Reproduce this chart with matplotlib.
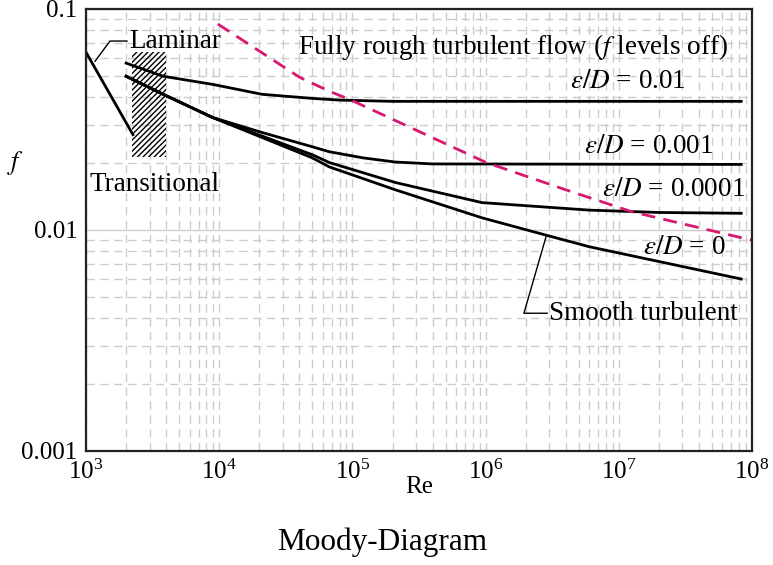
import matplotlib
matplotlib.use("Agg")
import matplotlib.pyplot as plt
from matplotlib import ticker

plt.rcParams['font.family'] = ['Liberation Serif', 'DejaVu Serif']
plt.rcParams['mathtext.fontset'] = 'stix'
plt.rcParams['hatch.linewidth'] = 1.0

# values
re_lam = [1000, 2250]
f_lam = [0.0637, 0.027]

re_r01 = [2000, 3800, 8900, 21000, 50000, 80000, 2e5, 8.3e7]
f_r01 = [0.0569, 0.0496, 0.0456, 0.0411, 0.0394, 0.0387, 0.0382, 0.0382]

re_r001 = [2000, 3800, 8900, 21000, 50000, 67000, 1.2e5, 2.1e5, 4e5, 8.3e7]
f_r001 = [0.0496, 0.0411, 0.0323, 0.0276, 0.0238, 0.0226, 0.0212, 0.0203, 0.0199, 0.0198]

re_r0001 = [2000, 3800, 8900, 21000, 50000, 67000, 2.1e5, 9.4e5, 2.8e6, 6e6, 2e7, 8.3e7]
f_r0001 = [0.0496, 0.0411, 0.0323, 0.0266, 0.0219, 0.0202, 0.0164, 0.0133, 0.0127, 0.0123, 0.0120, 0.0119]

re_smooth = [2000, 3800, 8900, 21000, 50000, 67000, 2.1e5, 9.4e5, 2.8e6, 6e6, 2e7, 8.3e7]
f_smooth = [0.0496, 0.0411, 0.0323, 0.0262, 0.0212, 0.0193, 0.0152, 0.01135, 0.0095, 0.0084, 0.0072, 0.0060]

re_full = [9750, 40100, 67300, 95000, 1.01e6, 4.0e6, 1.25e7, 9.9e7]
f_full = [0.0855, 0.0491, 0.0424, 0.0390, 0.0202, 0.0152, 0.0121, 0.0090]

trans_re = [2200, 4000]
trans_f = [0.0215, 0.0637]

ytick_vals = [0.001, 0.01, 0.1]
ytick_labels = ["0.001", "0.01", "0.1"]

fig = plt.figure(figsize=(7.73, 5.65), dpi=100)
ax = fig.add_axes([0.1113, 0.2018, 0.8615, 0.7823])
ax.set_xscale('log')
ax.set_yscale('log')
ax.set_xlim(1e3, 1e8)
ax.set_ylim(1e-3, 0.1)

gc = '#cccccc'
ax.grid(True, which='major', axis='y', color=gc, lw=1.0, ls='-')
ax.grid(True, which='major', axis='x', color=gc, lw=1.0, ls=(0, (6, 4)))
ax.grid(True, which='minor', color=gc, lw=1.0, ls=(0, (6, 4)))
ax.set_axisbelow(True)

ax.fill_between(trans_re, trans_f[0], trans_f[1], facecolor='none',
                edgecolor='black', hatch='//////', linewidth=0)

lw = 2.0
ax.plot(re_lam, f_lam, color='black', lw=lw)
ax.plot(re_r01, f_r01, color='black', lw=lw)
ax.plot(re_r001, f_r001, color='black', lw=lw)
ax.plot(re_r0001, f_r0001, color='black', lw=lw)
ax.plot(re_smooth, f_smooth, color='black', lw=lw)
ax.plot(re_full, f_full, color='#d6186e', lw=lw, ls=(0, (5, 3)))

ax.set_yticks(ytick_vals)
ax.set_yticklabels(ytick_labels)
ax.yaxis.set_minor_formatter(ticker.NullFormatter())
ax.xaxis.set_minor_formatter(ticker.NullFormatter())
ax.tick_params(which='both', length=0, labelsize=18, pad=6)
for s in ax.spines.values():
    s.set_linewidth(1.6)
    s.set_color('#222222')

fs = 19.5
ax.text(2100, 0.0716, "Laminar", fontsize=fs, ha='left', va='center')
ax.plot([2027, 1513, 1168], [0.0716, 0.0716, 0.058], color='black', lw=1.0)
ax.text(1070, 0.016, "Transitional", fontsize=fs, ha='left', va='center')
ax.text(6.67e7, 0.0672, "Fully rough turbulent flow ($f$ levels off)",
        fontsize=fs, ha='right', va='center')
ax.text(3.18e7, 0.0471, r"$\varepsilon/D$ = 0.01", fontsize=fs, ha='right', va='center')
ax.text(5.15e7, 0.0238, r"$\varepsilon/D$ = 0.001", fontsize=fs, ha='right', va='center')
ax.text(8.9e7, 0.0152, r"$\varepsilon/D$ = 0.0001", fontsize=fs, ha='right', va='center')
ax.text(6.3e7, 0.00837, r"$\varepsilon/D$ = 0", fontsize=fs, ha='right', va='center')
ax.text(3.0e6, 0.0042, "Smooth turbulent", fontsize=fs, ha='left', va='center')
ax.plot([2.84e6, 1.94e6, 2.9e6], [0.0093, 0.0042, 0.0042], color='black', lw=1.0)

fig.text(0.02, 1 - 163 / 565, "$f$", fontsize=19, ha='center', va='center')
fig.text(0.542, 1 - 487 / 565, "Re", fontsize=18, ha='center', va='center')
fig.text(0.495, 1 - 542 / 565, "Moody-Diagram", fontsize=22.5, ha='center', va='center')

fig.savefig("out.png", dpi=100)
